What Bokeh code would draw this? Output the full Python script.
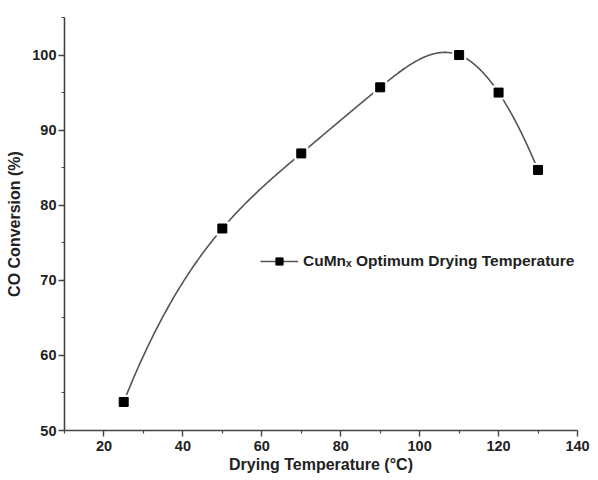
import numpy as np
from bokeh.plotting import figure
from bokeh.models import Range1d, FixedTicker, Legend, LegendItem
from bokeh.embed import file_html
from bokeh.resources import INLINE

# Data
temps = [25, 50, 70, 90, 110, 120, 130]
conversion = [53.8, 76.9, 86.9, 95.7, 100.0, 95.0, 84.7]
x_ticks = [20, 40, 60, 80, 100, 120, 140]
y_ticks = [50, 60, 70, 80, 90, 100]
series_label = "CuMn\u2093 Optimum Drying Temperature"


def spline_not_a_knot(x, y, n=400):
    x = np.asarray(x, float)
    y = np.asarray(y, float)
    k = len(x)
    h = np.diff(x)
    A = np.zeros((k, k))
    b = np.zeros(k)
    A[0, 0] = h[1]
    A[0, 1] = -(h[0] + h[1])
    A[0, 2] = h[0]
    A[-1, -3] = h[-1]
    A[-1, -2] = -(h[-2] + h[-1])
    A[-1, -1] = h[-2]
    for i in range(1, k - 1):
        A[i, i - 1] = h[i - 1]
        A[i, i] = 2 * (h[i - 1] + h[i])
        A[i, i + 1] = h[i]
        b[i] = 6 * ((y[i + 1] - y[i]) / h[i] - (y[i] - y[i - 1]) / h[i - 1])
    M = np.linalg.solve(A, b)
    xs = np.linspace(x[0], x[-1], n)
    idx = np.clip(np.searchsorted(x, xs) - 1, 0, k - 2)
    x0, x1 = x[idx], x[idx + 1]
    hh = x1 - x0
    t0 = x1 - xs
    t1 = xs - x0
    ys = (M[idx] * t0 ** 3 / (6 * hh) + M[idx + 1] * t1 ** 3 / (6 * hh)
          + (y[idx] / hh - M[idx] * hh / 6) * t0
          + (y[idx + 1] / hh - M[idx + 1] * hh / 6) * t1)
    return xs, ys


sx, sy = spline_not_a_knot(temps, conversion)

FONT = "Liberation Sans"

p = figure(width=596, height=478, output_backend="svg", toolbar_location=None,
           x_range=Range1d(10, 140), y_range=Range1d(50, 105),
           min_border_left=64, min_border_right=19, min_border_top=17,
           min_border_bottom=48)
p.outline_line_color = None
p.grid.grid_line_color = None
p.background_fill_color = "white"
p.border_fill_color = "white"

line_r = p.line(sx, sy, line_color="#555555", line_width=1.6)
halo_r = p.scatter(temps, conversion, marker="square", size=14,
                   fill_color="white", line_color=None)
pts_r = p.scatter(temps, conversion, marker="square", size=9,
                  fill_color="black", line_color="black")

for ax in (p.xaxis[0], p.yaxis[0]):
    ax.axis_line_color = "#444444"
    ax.axis_line_width = 1.6
    ax.major_tick_line_color = "#444444"
    ax.minor_tick_line_color = "#444444"
    ax.major_tick_line_width = 1.4
    ax.minor_tick_line_width = 1.2
    ax.major_tick_in = 0
    ax.major_tick_out = 6
    ax.minor_tick_in = 0
    ax.minor_tick_out = 3
    ax.major_label_text_font = FONT
    ax.major_label_text_font_style = "bold"
    ax.major_label_text_font_size = "14.5px"
    ax.major_label_text_color = "#222222"
    ax.axis_label_text_font = FONT
    ax.axis_label_text_font_style = "bold"
    ax.axis_label_text_font_size = "16px"
    ax.axis_label_text_color = "#222222"

p.xaxis.ticker = FixedTicker(ticks=x_ticks,
                             minor_ticks=[t + 10 for t in x_ticks[:-1]] + [10])
p.yaxis.ticker = FixedTicker(ticks=y_ticks, minor_ticks=[t + 5 for t in y_ticks])
p.xaxis.axis_label = "Drying Temperature (\u00b0C)"
p.yaxis.axis_label = "CO Conversion (%)"
p.xaxis.axis_label_standoff = 2
p.yaxis.axis_label_standoff = 6
p.xaxis.major_label_standoff = 4
p.yaxis.major_label_standoff = 2

legend = Legend(items=[LegendItem(label=series_label,
                                  renderers=[line_r, halo_r, pts_r])],
                location=(196, 160), padding=0, margin=0,
                border_line_color=None, background_fill_alpha=0,
                glyph_width=38, glyph_height=18, label_standoff=5,
                label_text_font=FONT, label_text_font_style="bold",
                label_text_font_size="15.5px", label_text_color="#222222")
p.add_layout(legend)

open("out.html", "w").write(file_html(p, INLINE))
